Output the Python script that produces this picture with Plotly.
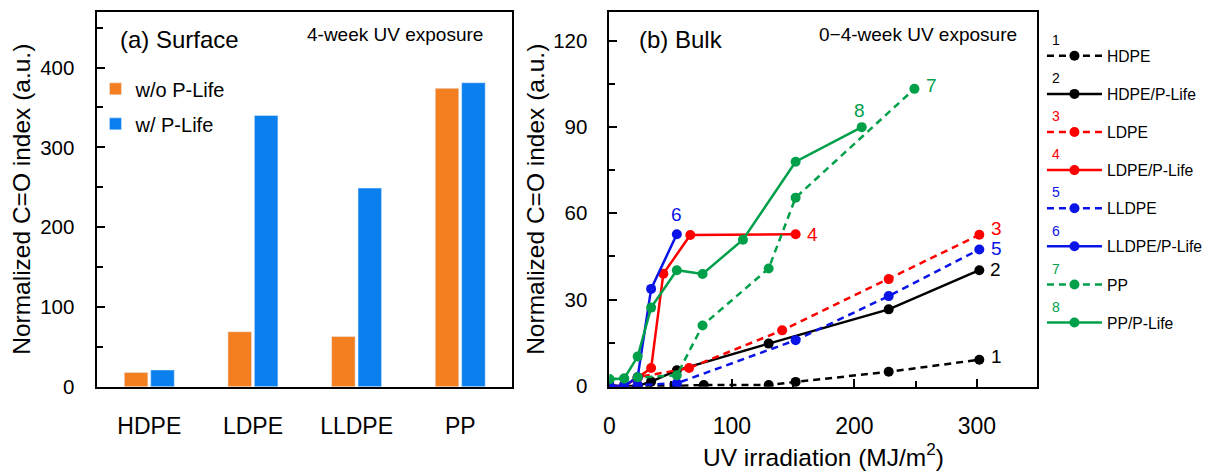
import plotly.graph_objects as go

# ---------------- data ----------------
# (a) Surface, 4-week UV exposure
polymers = ["HDPE", "LDPE", "LLDPE", "PP"]
surface_wo = [18, 69, 63, 374]
surface_w = [21, 340, 249, 381]

# (b) Bulk, 0-4-week UV exposure
hdpe_x = [0, 23, 55, 77, 130, 152, 228, 302]
hdpe_y = [0, 0, 0, 0.3, 0.3, 1.4, 4.9, 9.1]
hdpe_pl_x = [0, 12, 23, 34, 55, 130, 228, 302]
hdpe_pl_y = [0, 0, 0, 1.5, 5.4, 14.7, 26.6, 40.2]
ldpe_x = [0, 12, 23, 65, 141, 228, 302]
ldpe_y = [0, 0, 3, 6.2, 19.3, 37.1, 52.5]
ldpe_pl_x = [0, 12, 23, 34, 44, 66, 152]
ldpe_pl_y = [0, 0, 2.8, 6.2, 39, 52.4, 52.7]
lldpe_x = [0, 12, 23, 55, 152, 228, 302]
lldpe_y = [0, 0, 0.3, 0.9, 15.9, 31.2, 47.4]
lldpe_pl_x = [0, 12, 23, 34, 55]
lldpe_pl_y = [0, 0, 3, 33.7, 52.7]
pp_x = [0, 12, 23, 55, 76, 130, 152, 249]
pp_y = [2.3, 2.6, 3, 3.7, 21, 40.8, 65.4, 103.2]
pp_pl_x = [0, 12, 23, 34, 55, 76, 109, 152, 206]
pp_pl_y = [2.3, 2.6, 10.2, 27.2, 40.2, 38.9, 50.8, 77.9, 89.9]

series_names = ["HDPE", "HDPE/P-Life", "LDPE", "LDPE/P-Life",
                "LLDPE", "LLDPE/P-Life", "PP", "PP/P-Life"]
series_x = [hdpe_x, hdpe_pl_x, ldpe_x, ldpe_pl_x, lldpe_x, lldpe_pl_x, pp_x, pp_pl_x]
series_y = [hdpe_y, hdpe_pl_y, ldpe_y, ldpe_pl_y, lldpe_y, lldpe_pl_y, pp_y, pp_pl_y]
series_labels = ["1", "2", "3", "4", "5", "6", "7", "8"]

# ---------------- styles ----------------
FONT = "Arial, Liberation Sans, sans-serif"
ORANGE = "#F47F20"
BBLUE = "#0A7FEE"
BLACK = "#000000"
RED = "#FF0000"
BLUE = "#0A14E6"
GREEN = "#00A04A"
colors = [BLACK, BLACK, RED, RED, BLUE, BLUE, GREEN, GREEN]
dashes = ["7px,5px", "solid"] * 4
# label offsets (px) relative to each series' last point
label_shift = [(17, 3), (16, 1), (17, 6), (17, 0), (17, 1), (0, 20), (17, 3), (-2, 17)]

W, H = 1208, 472
def px(x):
    return x / W
def py(y):
    return 1 - y / H

fig = go.Figure()

# panel (a) bars
fig.add_trace(go.Bar(x=polymers, y=surface_wo, name="w/o P-Life", marker_color=ORANGE,
                     xaxis="x", yaxis="y", legend="legend2", legendgroup="a1"))
fig.add_trace(go.Bar(x=polymers, y=surface_w, name="w/ P-Life", marker_color=BBLUE,
                     xaxis="x", yaxis="y", legend="legend2", legendgroup="a2"))

# panel (b) lines
for i, (nm, xs, ys) in enumerate(zip(series_names, series_x, series_y)):
    fig.add_trace(go.Scatter(x=xs, y=ys, name=nm, mode="lines+markers",
                             line=dict(color=colors[i], width=2.5, dash=dashes[i]),
                             marker=dict(color=colors[i], size=10),
                             xaxis="x2", yaxis="y2", legend="legend", legendgroup=f"b{i}"))
    fig.add_annotation(x=xs[-1], y=ys[-1], xref="x2", yref="y2", text=series_labels[i],
                       showarrow=False, xshift=label_shift[i][0], yshift=label_shift[i][1],
                       font=dict(size=19, color=colors[i], family=FONT))

axis_common = dict(showline=True, linecolor="black", linewidth=2, mirror=True,
                   showgrid=False, zeroline=False)

fig.update_layout(
    width=W, height=H,
    margin=dict(l=0, r=0, t=0, b=0),
    paper_bgcolor="white", plot_bgcolor="white",
    font=dict(family=FONT, color="black"),
    barmode="group", bargap=0.49, bargroupgap=0.11,
    xaxis=dict(domain=[px(92), px(509)], range=[-0.5, 3.5], ticks="",
               tickfont=dict(size=23), ticklabelstandoff=18, anchor="y", **axis_common),
    yaxis=dict(domain=[py(396), py(12)], range=[0, 470], ticks="inside", ticklen=8,
               tickwidth=1.5, tickcolor="black", dtick=100, tick0=0,
               minor=dict(ticks="inside", ticklen=6, dtick=50, tickcolor="black", tickwidth=1.5),
               tickfont=dict(size=20.5), ticklabelstandoff=17, anchor="x",
               title=dict(text="Normalized C=O index (a.u.)", font=dict(size=24.5), standoff=3),
               **axis_common),
    xaxis2=dict(domain=[px(607), px(1037.5)], range=[0, 349.5], ticks="inside", ticklen=8,
                tickwidth=1.5, tickcolor="black", dtick=100, tick0=0,
                minor=dict(ticks="inside", ticklen=6, dtick=50, tickcolor="black", tickwidth=1.5),
                tickfont=dict(size=23), ticklabelstandoff=18, anchor="y2",
                title=dict(text="UV irradiation (MJ/m<sup>2</sup>)", font=dict(size=24.5), standoff=4),
                **axis_common),
    yaxis2=dict(domain=[py(396), py(12)], range=[-0.3, 130], ticks="inside", ticklen=8,
                tickwidth=1.5, tickcolor="black", dtick=30, tick0=0,
                minor=dict(ticks="inside", ticklen=6, dtick=15, tickcolor="black", tickwidth=1.5),
                tickfont=dict(size=20.5), ticklabelstandoff=16, anchor="x2",
                title=dict(text="Normalized C=O index (a.u.)", font=dict(size=24.5), standoff=2),
                **axis_common),
    legend=dict(x=px(1042), y=py(40), xanchor="left", yanchor="top",
                font=dict(size=15.7, family=FONT), tracegroupgap=14.7, itemwidth=55,
                bgcolor="rgba(0,0,0,0)", traceorder="grouped"),
    legend2=dict(x=px(90), y=py(71), xanchor="left", yanchor="top",
                 font=dict(size=20, family=FONT), tracegroupgap=6, itemwidth=30,
                 bgcolor="rgba(0,0,0,0)", traceorder="grouped"),
)

fig.add_annotation(x=px(113), y=py(40), xref="paper", yref="paper", text="(a) Surface",
                   showarrow=False, xanchor="left", yanchor="middle", font=dict(size=24))
fig.add_annotation(x=px(482), y=py(35), xref="paper", yref="paper", text="4-week UV exposure",
                   showarrow=False, xanchor="right", yanchor="middle", font=dict(size=19))
fig.add_annotation(x=px(635), y=py(40), xref="paper", yref="paper", text="(b) Bulk",
                   showarrow=False, xanchor="left", yanchor="middle", font=dict(size=24))
fig.add_annotation(x=px(1019), y=py(35), xref="paper", yref="paper", text="0\u22124-week UV exposure",
                   showarrow=False, xanchor="right", yanchor="middle", font=dict(size=19))

# numbers above legend line samples
for i, lab in enumerate(series_labels):
    fig.add_annotation(x=px(1056), y=py(41 + 39 * i), xref="paper", yref="paper", text=lab,
                       showarrow=False, xanchor="center", yanchor="middle",
                       font=dict(size=14, color=colors[i]))

fig.write_html("out.html")
